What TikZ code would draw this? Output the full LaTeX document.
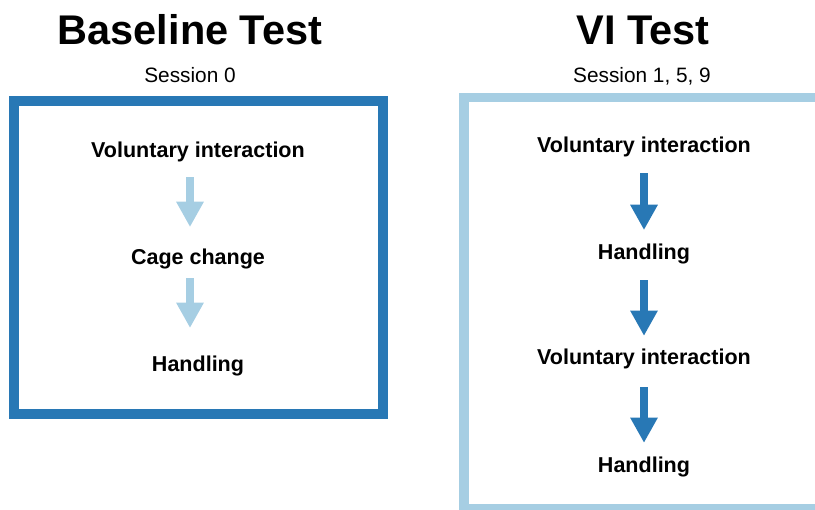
\documentclass[tikz,border=0pt]{standalone}
\usepackage{fontspec}
\setmainfont{Liberation Sans}
\usetikzlibrary{arrows.meta}
\definecolor{darkblue}{RGB}{40,120,181}
\definecolor{paleblue}{RGB}{166,206,227}

\begin{document}
\begin{tikzpicture}[x=0.025cm, y=-0.025cm,
		T/.style = {anchor=base, inner sep=0, font=\fontsize{29.5}{32}\selectfont\bfseries},
		S/.style = {anchor=base, inner sep=0, font=\fontsize{14.8}{16}\selectfont},
		V/.style = {anchor=base, inner sep=0, text height=10.8pt, text depth=3pt,
			font=\fontsize{15.3}{17}\selectfont\bfseries},
		box/.style = {line width=7.1pt},
		arr/.style = {line width=5pt, -{Triangle[width=18.4pt,length=18pt]}}
		]
		\useasboundingbox (0,0) rectangle (815,510);
		\clip (0,0) rectangle (815,510);
		
		% headings
		\node[T] (t1) at (190,45) {Baseline Test};
		\node[S] (s1) at (190,83) {Session 0};
		\node[T] (t2) at (643,45) {VI Test};
		\node[S] (s2) at (642,83) {Session 1, 5, 9};
		
		\draw[box, darkblue] (14,101) rectangle (383,414);
		\draw[box, paleblue] (464,97.5) rectangle (835,508.5);
		
		\node[V] (b1) at (198,158) {Voluntary interaction};
		\node[V] (b2) at (198,265) {Cage change};
		\node[V] (b3) at (198,372) {Handling};
		
		\node[V] (v1) at (644,153) {Voluntary interaction};
		\node[V] (v2) at (644,260) {Handling};
		\node[V] (v3) at (644,365) {Voluntary interaction};
		\node[V] (v4) at (644,472) {Handling};
		
		\draw ([xshift=-0.2cm]b1.south) edge[arr, paleblue, shorten <=10.5pt, shorten >=16pt] ([xshift=-0.2cm]b2.north);
		\draw ([xshift=-0.2cm]b2.south) edge[arr, paleblue, shorten <=6.3pt, shorten >=20.3pt] ([xshift=-0.2cm]b3.north);
		
		\draw (v1) edge[arr, darkblue, shorten <=11.3pt, shorten >=10.3pt] (v2);
		\draw (v2) edge[arr, darkblue, shorten <=11.3pt, shorten >=9.7pt] (v3);
		\draw (v3) edge[arr, darkblue, shorten <=12.6pt, shorten >=9.7pt] (v4);
	\end{tikzpicture}
\end{document}
